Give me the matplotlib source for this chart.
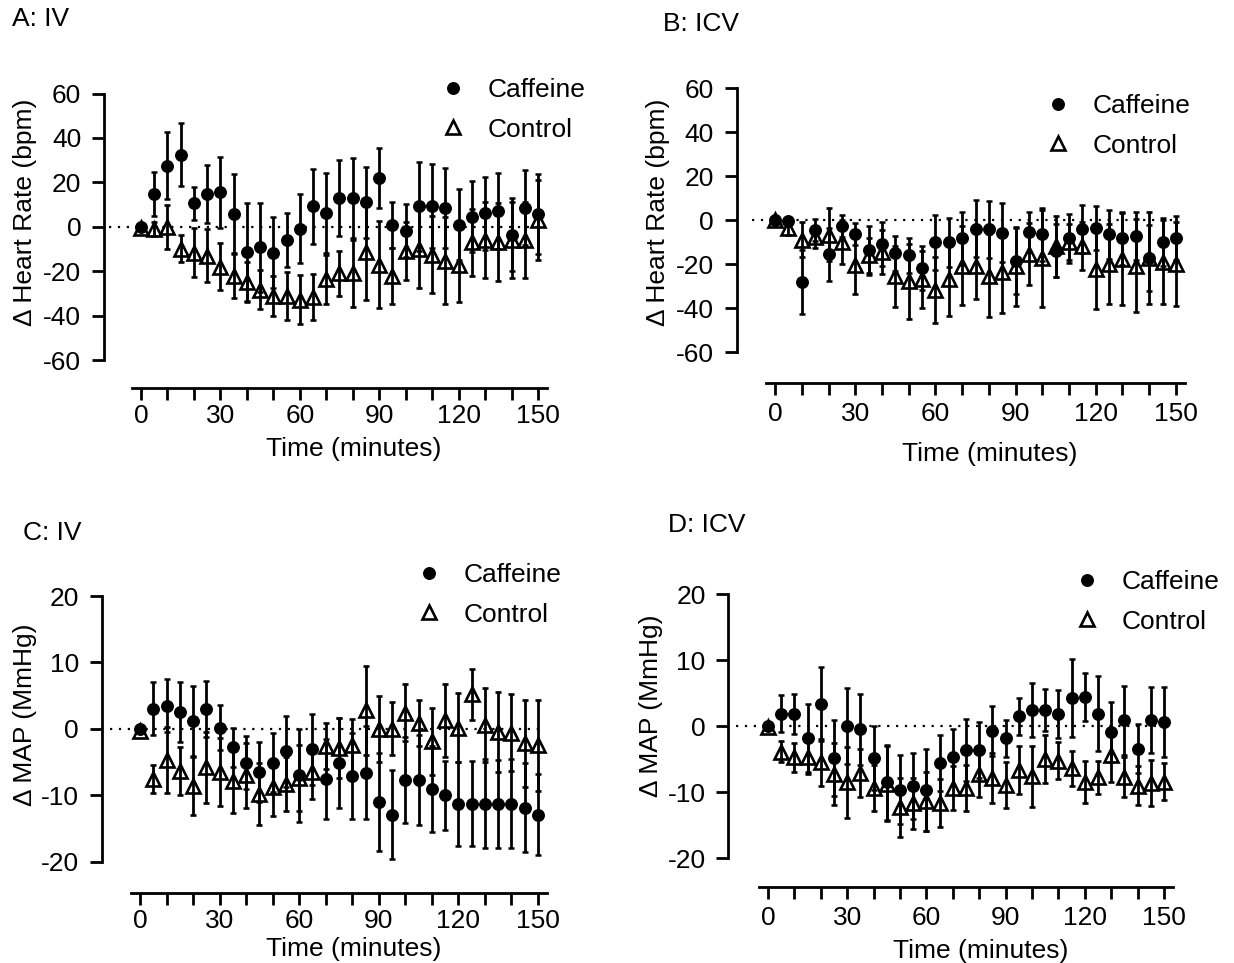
import numpy as np
import matplotlib
matplotlib.use("Agg")
import matplotlib.pyplot as plt
from matplotlib.lines import Line2D

plt.rcParams['font.family'] = ['Liberation Sans', 'DejaVu Sans']
plt.rcParams['axes.unicode_minus'] = False

# ---- data ----
time = np.arange(0, 151, 5)

hr_iv_caf = [0, 14.8, 27.5, 32.5, 10.6, 14.8, 15.6, 5.7, -11.3, -9.2, -11.7, -6, -0.8, 9.2, 6, 13, 13, 11, 21.8, 0.8,
             -1.8, 9.3, 9.3, 8.3, 1, 4.5, 6, 7, -3.5, 8.6, 5.7]
hr_iv_caf_err = [0.5, 10, 15, 14, 7.5, 13, 16, 18, 22, 20, 16, 12, 15.5, 17, 18, 17, 18, 16, 13.5, 10.5,
                 12, 20, 19, 18, 16, 16, 16.5, 17, 16.5, 17, 18]
hr_iv_con = [-0.5, -1, 0, -9.8, -11.6, -13, -18, -22, -25, -28.3, -31.2, -31.2, -32.8, -31.6, -23.7, -21, -21, -11.3,
             -17, -22.2, -11, -9.8, -12.5, -15.3, -17.3, -7, -6, -6.8, -6, -6, 3]
hr_iv_con_err = [0.5, 3, 10, 6, 11, 12, 10.6, 10, 9, 8.8, 9, 11, 11.2, 10.4, 10.9, 10, 15, 21.7, 19.4, 12.8,
                 13, 18, 17.5, 19.7, 16.5, 15, 17.3, 17.6, 17, 17, 18]

hr_icv_caf = [0, -0.5, -28.3, -4.5, -15.6, -2.5, -6.4, -13.8, -10.9, -15.1, -16, -22, -10.2, -10.2, -8.4, -3.9,
              -4.2, -5.7, -18.8, -5.4, -6.5, -14, -8.4, -4.2, -3.8, -6.5, -8.4, -7.2, -17.4, -10, -8]
hr_icv_caf_err = [0.5, 2, 14.5, 5, 12, 5, 5, 11, 10, 8, 8, 10, 12.7, 11, 12, 13, 13, 13.5, 15, 9,
                  12, 12, 11, 11, 10, 11, 12, 11, 15, 11, 10]
hr_icv_con = [0, -3.8, -9, -7.8, -6.6, -10, -20.5, -16.1, -14.7, -25.6, -27.8, -27, -31.7, -26.8, -20.7, -20.7,
              -25.3, -23.5, -21, -15.5, -17.4, -12, -10, -11.7, -22.3, -20, -17.7, -20.7, -17.4, -19.2, -20]
hr_icv_con_err = [0.5, 3, 8, 5, 12, 10, 13, 8, 10, 14, 17, 13, 15, 17, 18, 15, 19, 19, 18, 14,
                  22, 14, 8, 11, 18, 18, 21, 21, 21, 19, 19]

map_iv_caf = [0, 3, 3.5, 2.5, 1.2, 3, 0.2, -2.8, -5.1, -6.5, -5.1, -3.4, -7, -3.1, -7.5, -5.1, -7.1, -6.6, -11,
              -12.9, -7.7, -7.7, -9.1, -10, -11.3, -11.3, -11.3, -11.3, -11.3, -11.9, -12.9]
map_iv_caf_err = [0.3, 4, 4, 4.5, 5.3, 4.2, 3.4, 3, 4, 4.5, 4.4, 5.3, 7, 5.4, 6, 6.8, 6.4, 7, 7.4, 6.7,
                  6.4, 6.7, 6.5, 5.2, 6.3, 6.4, 6.7, 6.6, 6.7, 6.7, 6.1]
map_iv_con = [-0.3, -7.6, -4.7, -6.4, -8.6, -5.8, -6.5, -7.9, -7, -9.8, -8.8, -8.3, -7.4, -6.5, -2.6, -2.9, -2.5,
              2.8, 0, 0, 2.4, 0.9, -1.9, 1.3, 0.2, 5.2, 0.6, -0.5, -0.6, -2.2, -2.5]
map_iv_con_err = [0.3, 2.1, 5, 3.6, 4.3, 5.4, 5.1, 4.8, 4.9, 4.6, 4.3, 4, 5, 4, 3.5, 4.5, 4, 6.7, 5, 4,
                  4.3, 3.5, 5, 5.5, 5.2, 3.8, 5.6, 6, 5.8, 6.5, 6.9]

map_icv_caf = [0, 1.9, 1.8, -1.8, 3.4, -4.8, 0, -0.5, -4.8, -8.5, -9.6, -9, -9.6, -5.6, -4.7, -3.6, -3.6, -0.7,
               -1.8, 1.5, 2.4, 2.4, 1.8, 4.2, 4.4, 1.9, -0.9, 0.9, -3.4, 0.9, 0.7]
map_icv_caf_err = [0.3, 2.8, 3, 5.2, 5.6, 5.8, 5.8, 5.4, 4.8, 5.7, 5.2, 5, 6.2, 4.2, 4.3, 4.7, 4.3, 3.8, 2.8, 2.8,
                   4.1, 3.2, 3.6, 5.9, 3.6, 5.7, 4.5, 5.2, 3.7, 5, 5.3]
map_icv_con = [-0.2, -3.9, -4.7, -4.6, -5.5, -7.3, -8.5, -7.1, -9.4, -8.7, -12.3, -11.7, -11.4, -11.6, -9.4, -9.4,
               -7.2, -7.9, -8.9, -6.6, -7.6, -5, -5.2, -6.4, -8.4, -7.7, -4.4, -7.7, -9, -8.6, -8.4]
map_icv_con_err = [0.3, 1.6, 2.2, 2.6, 3.6, 4.7, 5.4, 3.6, 3.5, 5.7, 4.5, 3.8, 4.4, 3.6, 3.3, 3.5, 3.5, 3.8, 3.5,
                   3.6, 4.6, 3.6, 2.8, 2.7, 3.2, 2.5, 4, 3, 3, 3.5, 2.8]

xticks = list(range(0, 151, 10))
xtick_labels = [str(t) if t % 30 == 0 else '' for t in xticks]
hr_ticks = [-60, -40, -20, 0, 20, 40, 60]
map_ticks = [-20, -10, 0, 10, 20]

# ---- layout (pixels of a 1234 x 963 canvas) ----
W, H = 1234, 963
FS = 19
fig = plt.figure(figsize=(W / 100, H / 100), dpi=100)

panels = [
    dict(title='A: IV', tpos=(12, 19), rect=(132, 93.5, 547, 360), off=(20, 20),
         caf=hr_iv_caf, caf_err=hr_iv_caf_err, con=hr_iv_con, con_err=hr_iv_con_err,
         yt=hr_ticks, ylab='\u0394 Heart Rate (bpm)', ylc=(-0.229, 0.555), leg=(440, 110),
         x0=-12, xpad=3.5, lpad=6.5),
    dict(title='B: ICV', tpos=(663, 24), rect=(766, 88, 1185, 352), off=(21, 22.3),
         caf=hr_icv_caf, caf_err=hr_icv_caf_err, con=hr_icv_con, con_err=hr_icv_con_err,
         yt=hr_ticks, ylab='\u0394 Heart Rate (bpm)', ylc=(-0.229, 0.53), leg=(1045, 126),
         x0=-8.5, xpad=5, lpad=12),
    dict(title='C: IV', tpos=(23, 533), rect=(131, 596, 547, 861.7), off=(21, 22.3),
         caf=map_iv_caf, caf_err=map_iv_caf_err, con=map_iv_con, con_err=map_iv_con_err,
         yt=map_ticks, ylab='\u0394 MAP (MmHg)', ylc=(-0.226, 0.552), leg=(416, 595),
         x0=-11.5, xpad=3.5, lpad=2.5),
    dict(title='D: ICV', tpos=(668, 525), rect=(759, 594, 1173, 858.3), off=(22, 21),
         caf=map_icv_caf, caf_err=map_icv_caf_err, con=map_icv_con, con_err=map_icv_con_err,
         yt=map_ticks, ylab='\u0394 MAP (MmHg)', ylc=(-0.232, 0.576), leg=(1074, 602),
         x0=-12, xpad=5, lpad=6),
]

for p in panels:
    l, t, r, b = p['rect']
    ax = fig.add_axes([l / W, 1 - b / H, (r - l) / W, (b - t) / H])

    ax.hlines(0, p['x0'], 150, colors='black', linestyles=(0, (1, 3)), linewidth=1.6, clip_on=False, zorder=1)

    ax.errorbar(time, p['con'], yerr=p['con_err'], fmt='^', ms=9.5, mfc='none', mec='black', mew=1.9,
                ecolor='black', elinewidth=2.0, capsize=2.5, capthick=1.8, clip_on=False, zorder=3)
    ax.errorbar(time, p['caf'], yerr=p['caf_err'], fmt='o', ms=8.3, color='black',
                ecolor='black', elinewidth=2.0, capsize=2.5, capthick=1.8, clip_on=False, zorder=4)

    ax.set_xlim(-3.4, 153.4)
    ax.set_ylim(p['yt'][0], p['yt'][-1])
    ax.set_xticks(xticks, xtick_labels)
    ax.set_yticks(p['yt'])

    for s in ('top', 'right'):
        ax.spines[s].set_visible(False)
    ax.spines['left'].set_position(('outward', p['off'][0]))
    ax.spines['bottom'].set_position(('outward', p['off'][1]))
    ax.spines['left'].set_linewidth(2.0)
    ax.spines['bottom'].set_linewidth(2.0)
    ax.tick_params(axis='both', direction='out', length=8.5, width=2.0, labelsize=FS, colors='black')
    ax.tick_params(axis='y', pad=8)
    ax.tick_params(axis='x', pad=p['xpad'])

    ax.set_xlabel('Time (minutes)', fontsize=FS, labelpad=p['lpad'])
    ax.xaxis.label.set_x(0.535)
    ax.set_ylabel(p['ylab'], fontsize=FS)
    ax.yaxis.set_label_coords(*p['ylc'])

    handles = [Line2D([], [], ls='none', marker='o', ms=8.3, color='black'),
               Line2D([], [], ls='none', marker='^', ms=9.5, mfc='none', mec='black', mew=1.9)]
    ax.legend(handles, ['Caffeine', 'Control'], loc='center left',
              bbox_to_anchor=(p['leg'][0] / W, 1 - p['leg'][1] / H), bbox_transform=fig.transFigure,
              frameon=False, fontsize=FS, handlelength=1.0, handletextpad=0.8, borderpad=0,
              borderaxespad=0, labelspacing=0.58)

    fig.text(p['tpos'][0] / W, 1 - p['tpos'][1] / H, p['title'], fontsize=FS, ha='left', va='center')

fig.savefig('out.png', dpi=100)
